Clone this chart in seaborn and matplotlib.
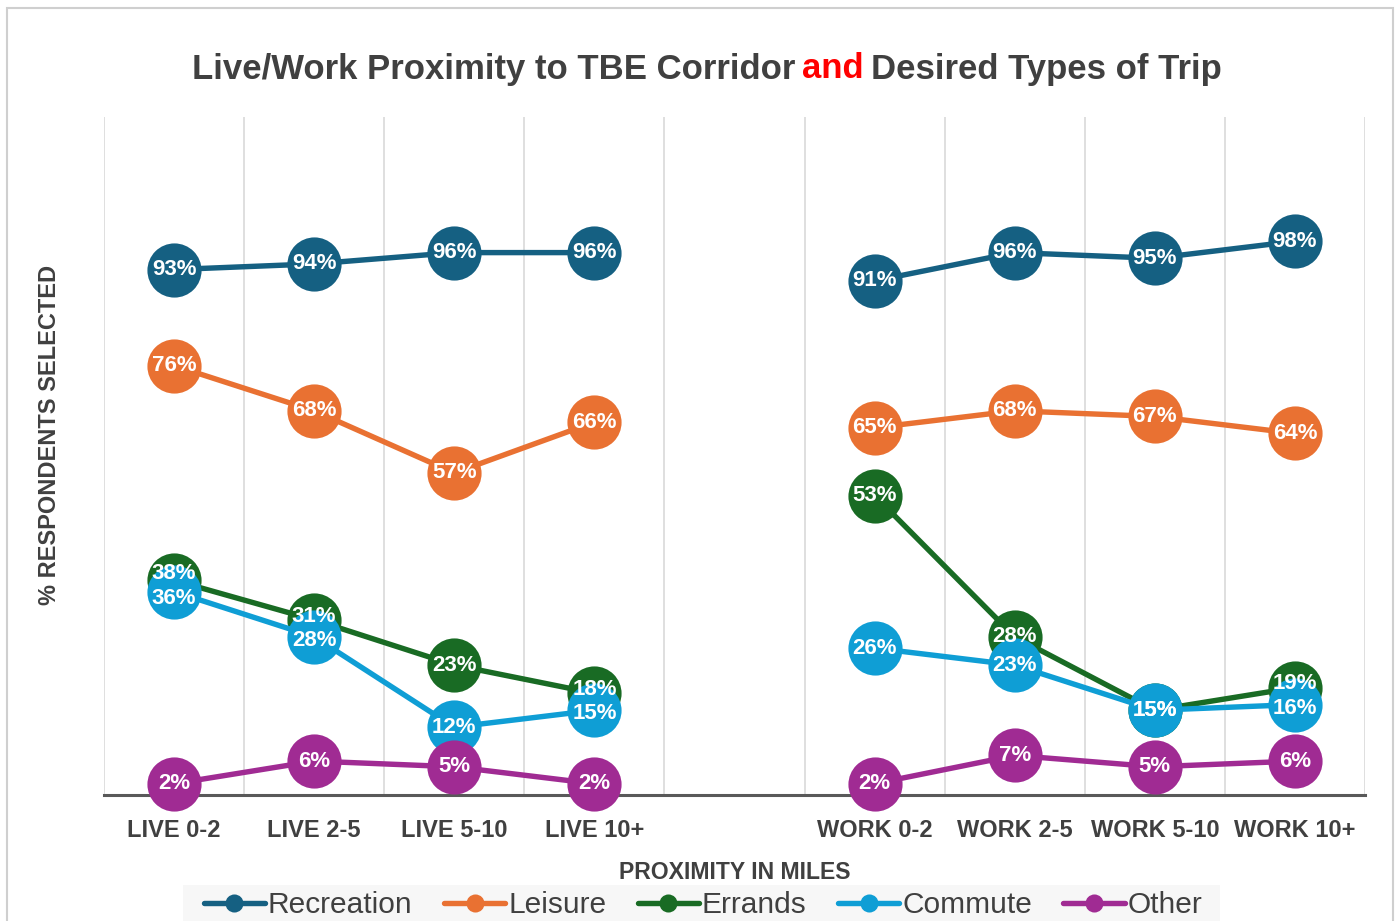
import pandas as pd
import matplotlib
matplotlib.use("Agg")
import matplotlib.pyplot as plt
import seaborn as sns
from matplotlib.lines import Line2D
from matplotlib.patches import Rectangle
from matplotlib.offsetbox import TextArea, HPacker, AnchoredOffsetbox

# categories (blank slot separates the LIVE and WORK groups)
categories = ["LIVE 0-2", "LIVE 2-5", "LIVE 5-10", "LIVE 10+", "",
              "WORK 0-2", "WORK 2-5", "WORK 5-10", "WORK 10+"]
sides = ["LIVE", "LIVE", "LIVE", "LIVE", None, "WORK", "WORK", "WORK", "WORK"]

recreation = [93, 94, 96, 96, None, 91, 96, 95, 98]
leisure = [76, 68, 57, 66, None, 65, 68, 67, 64]
errands = [38, 31, 23, 18, None, 53, 28, 15, 19]
commute = [36, 28, 12, 15, None, 26, 23, 15, 16]
other = [2, 6, 5, 2, None, 2, 7, 5, 6]

series_names = ["Recreation", "Leisure", "Errands", "Commute", "Other"]
series_values = [recreation, leisure, errands, commute, other]
colors = ["#156082", "#E97132", "#196B24", "#0F9ED5", "#A02B93"]

SANS = ["Liberation Sans", "DejaVu Sans"]
DARK = "#404040"

rows = []
for name, vals in zip(series_names, series_values):
    for i, v in enumerate(vals):
        if v is not None:
            rows.append({"trip": name, "pos": i, "value": v, "side": sides[i]})
df = pd.DataFrame(rows)

sns.set_theme(style="white")
fig = plt.figure(figsize=(14, 9.21), dpi=100)
ax = fig.add_axes([104 / 1400, 1 - 795 / 921, (1365 - 104) / 1400, (795 - 117) / 921])

for k, (name, color) in enumerate(zip(series_names, colors)):
    sub = df[df["trip"] == name]
    sns.lineplot(data=sub, x="pos", y="value", units="side", estimator=None,
                 color=color, linewidth=3.9, marker="o", markersize=39,
                 markeredgewidth=0, ax=ax, legend=False, sort=False,
                 clip_on=False, zorder=3 + k)

# data labels on top of every marker; push apart labels that would collide
min_gap = 4.3  # in data units (~24 px)
df["label_y"] = df["value"].astype(float)
for pos, grp in df.groupby("pos"):
    grp = grp.sort_values("value")
    idx = list(grp.index)
    for a, b in zip(idx[:-1], idx[1:]):
        va, vb = df.at[a, "value"], df.at[b, "value"]
        if va != vb and vb - va < min_gap:
            mid = (va + vb) / 2
            df.at[a, "label_y"] = mid - min_gap / 2
            df.at[b, "label_y"] = mid + min_gap / 2

for _, r in df.iterrows():
    ax.text(r["pos"], r["label_y"], f"{int(r['value'])}%", ha="center", va="center",
            color="white", fontsize=16, fontweight="bold", family=SANS,
            zorder=20, clip_on=False)

ax.set_xlim(-0.5, len(categories) - 0.5)
ax.set_ylim(0, 120)
ax.set_xticks(range(len(categories)))
ax.set_xticklabels(categories, fontsize=17, fontweight="bold", color=DARK, family=SANS)
ax.set_xticks([i - 0.5 for i in range(len(categories) + 1)], minor=True)
ax.set_yticks([])
ax.tick_params(axis="x", which="both", length=0, pad=17)
ax.grid(False)
ax.grid(True, which="minor", axis="x", color="#D9D9D9", linewidth=1.2)
ax.set_axisbelow(True)
for s in ["left", "right", "top"]:
    ax.spines[s].set_visible(False)
ax.spines["bottom"].set_color("#595959")
ax.spines["bottom"].set_linewidth(2.2)
ax.spines["bottom"].set_zorder(2)
ax.set_xlabel("PROXIMITY IN MILES", fontsize=16.6, fontweight="bold", color=DARK,
              family=SANS, labelpad=14)
ax.set_ylabel("")

fig.text(50 / 1400, 1 - 435 / 921, "% RESPONDENTS SELECTED", rotation=90,
         ha="center", va="center", fontsize=17, fontweight="bold",
         color=DARK, family=SANS)

# title with a red "and"
parts = [("Live/Work Proximity to TBE Corridor", DARK), ("and", "#FF0000"),
         ("Desired Types of Trip", DARK)]
boxes = [TextArea(t, textprops=dict(color=c, fontsize=25, fontweight="bold", family=SANS))
         for t, c in parts]
title = AnchoredOffsetbox(loc="center", child=HPacker(children=boxes, align="baseline", pad=0, sep=5),
                          pad=0, borderpad=0, frameon=False,
                          bbox_to_anchor=(707 / 1400, 1 - 69 / 921),
                          bbox_transform=fig.transFigure)
fig.add_artist(title)

# legend with a light panel behind it
fig.add_artist(Rectangle((183 / 1400, -0.01), (1220 - 183) / 1400, 1 - 885 / 921 + 0.01,
                         transform=fig.transFigure, facecolor="#F7F7F7",
                         edgecolor="none", zorder=0))
handles = [Line2D([0], [0], color=c, lw=3.9, marker="o", markersize=13, markeredgewidth=0)
           for c in colors]
leg = fig.legend(handles, series_names, loc="center", ncol=5,
                 bbox_to_anchor=(703 / 1400, 1 - 905 / 921), frameon=False,
                 prop={"family": SANS, "size": 21.5}, handlelength=2.05,
                 handletextpad=0.1, columnspacing=1.05, borderpad=0.2)
for t in leg.get_texts():
    t.set_color(DARK)

fig.add_artist(Rectangle((7 / 1400, -0.01), 1386 / 1400, 1 - 8 / 921 + 0.01,
                         transform=fig.transFigure, fill=False,
                         edgecolor="#CFCFCF", linewidth=1.5))

fig.savefig("out.png", dpi=100)
